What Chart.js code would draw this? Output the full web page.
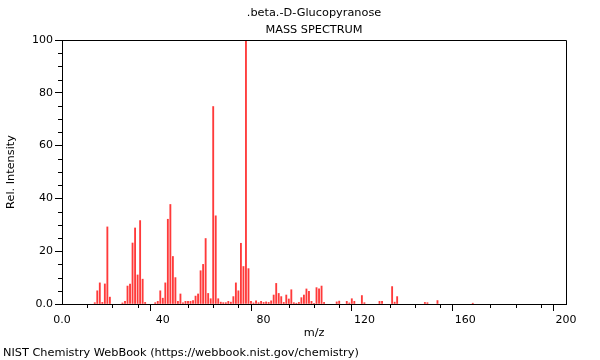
<!DOCTYPE html>
<html>
<head>
<meta charset="utf-8">
<script src="https://cdn.jsdelivr.net/npm/chart.js@4/dist/chart.umd.min.js"></script>
<style>
  html, body { margin: 0; padding: 0; background: #fff; }
  #wrap { width: 600px; height: 360px; }
</style>
</head>
<body>
<div id="wrap"><canvas id="spec" width="600" height="360"></canvas></div>
<script>
// m/z values and relative intensities
const mz = [13, 14, 15, 16, 17, 18, 19, 24, 25, 26, 27, 28, 29, 30, 31, 32, 33,
  37, 38, 39, 40, 41, 42, 43, 44, 45, 46, 47, 48, 49, 50, 51, 52, 53, 54, 55, 56,
  57, 58, 59, 60, 61, 62, 63, 64, 65, 66, 67, 68, 69, 70, 71, 72, 73, 74, 75, 76,
  77, 78, 79, 80, 81, 82, 83, 84, 85, 86, 87, 88, 89, 90, 91, 92, 93, 94, 95, 96,
  97, 98, 99, 100, 101, 102, 103, 104, 109, 110, 113, 114, 115, 116, 119, 120,
  126, 127, 131, 132, 133, 144, 145, 149, 163];
const intensity = [0.5, 5, 8, 0.6, 7.6, 29.2, 2.6, 0.4, 1, 6.8, 7.5, 23.1, 28.8, 11, 31.6, 9.4, 0.6,
  0.5, 1, 5, 2.2, 8, 32.1, 37.7, 18, 10, 1, 3.8, 0.4, 1, 1, 1, 1.3, 3, 3.8, 12.6, 15,
  24.8, 4, 2, 74.8, 33.4, 2, 0.7, 0.5, 0.5, 1, 0.7, 2.8, 8, 5, 23, 14.2, 100, 13.4, 1, 0.4,
  1.2, 0.5, 1, 0.6, 0.8, 0.6, 1.2, 3.4, 7.8, 4, 2.8, 0.6, 3.4, 1.9, 5.4, 0.5, 0.3, 0.6, 2.4, 3.4,
  5.7, 4.8, 1, 0.3, 6.2, 5.7, 6.8, 0.6, 0.8, 1.1, 1, 0.4, 2, 1, 3.2, 0.5,
  1, 1, 6.6, 0.7, 2.8, 0.6, 0.5, 1.3, 0.3];

const xTickLabels = [0, 40, 80, 120, 160, 200];
const yTickLabels = [0, 20, 40, 60, 80, 100];

const title = '.beta.-D-Glucopyranose';
const subtitle = 'MASS SPECTRUM';
const footer = 'NIST Chemistry WebBook (https://webbook.nist.gov/chemistry)';

Chart.defaults.font.family = '"DejaVu Sans", sans-serif';
Chart.defaults.font.size = 11;
Chart.defaults.color = '#000';

const fmt = v => (v === 0 ? '0.0' : String(v));
const majorColor = list => c => (c.tick && list.includes(c.tick.value) ? '#000' : 'rgba(0,0,0,0)');

// frame, minor ticks and the loose texts
const decor = {
  id: 'decor',
  afterDraw(chart) {
    const { ctx, chartArea: a, scales } = chart;
    ctx.save();
    ctx.strokeStyle = '#000';
    ctx.lineWidth = 1;
    ctx.beginPath();
    ctx.moveTo(a.left, a.top + 0.5);
    ctx.lineTo(a.right + 0.5, a.top + 0.5);
    ctx.lineTo(a.right + 0.5, a.bottom);
    ctx.stroke();

    // minor ticks
    ctx.beginPath();
    for (let v = 0; v <= 200; v += 10) {
      if (xTickLabels.includes(v)) continue;
      const px = Math.round(scales.x.getPixelForValue(v)) + 0.5;
      ctx.moveTo(px, a.bottom);
      ctx.lineTo(px, a.bottom + 4);
    }
    for (let v = 0; v <= 100; v += 5) {
      if (yTickLabels.includes(v)) continue;
      const py = Math.round(scales.y.getPixelForValue(v)) + 0.5;
      ctx.moveTo(a.left, py);
      ctx.lineTo(a.left - 4, py);
    }
    ctx.stroke();

    ctx.fillStyle = '#000';
    ctx.font = '11.3px "DejaVu Sans", sans-serif';
    ctx.textAlign = 'center';
    ctx.textBaseline = 'middle';
    const cx = (a.left + a.right) / 2;
    ctx.fillText(title, cx, 13);
    ctx.fillText(subtitle, cx, 30);
    ctx.fillText('m/z', cx, 333);

    ctx.textAlign = 'left';
    ctx.fillText(footer, 3, 353);

    ctx.translate(11, (a.top + a.bottom) / 2);
    ctx.rotate(-Math.PI / 2);
    ctx.textAlign = 'center';
    ctx.fillText('Rel. Intensity', 0, 0);
    ctx.restore();
  }
};

new Chart(document.getElementById('spec'), {
  type: 'bar',
  data: {
    datasets: [{
      data: mz.map((m, i) => ({ x: m, y: intensity[i] })),
      backgroundColor: '#ff3a3a',
      borderWidth: 0,
      barThickness: 1.2
    }]
  },
  options: {
    responsive: false,
    animation: false,
    layout: { padding: { top: 40, right: 34, left: 0, bottom: 0 } },
    plugins: {
      legend: { display: false },
      tooltip: { enabled: false }
    },
    scales: {
      x: {
        type: 'linear',
        min: 0,
        max: 200,
        offset: false,
        afterFit: s => { s.height = 56; },
        border: { display: true, color: '#000', width: 1 },
        grid: {
          drawOnChartArea: false,
          tickLength: 7,
          tickColor: majorColor(xTickLabels)
        },
        ticks: {
          stepSize: 10,
          autoSkip: false,
          maxRotation: 0,
          padding: 3,
          callback: v => (xTickLabels.includes(v) ? fmt(v) : '')
        }
      },
      y: {
        min: 0,
        max: 100,
        afterFit: s => { s.width = 62; },
        border: { display: true, color: '#000', width: 1 },
        grid: {
          drawOnChartArea: false,
          tickLength: 7,
          tickColor: majorColor(yTickLabels)
        },
        ticks: {
          stepSize: 5,
          autoSkip: false,
          padding: 2,
          callback: v => (yTickLabels.includes(v) ? fmt(v) : '')
        }
      }
    }
  },
  plugins: [decor]
});
</script>
</body>
</html>
